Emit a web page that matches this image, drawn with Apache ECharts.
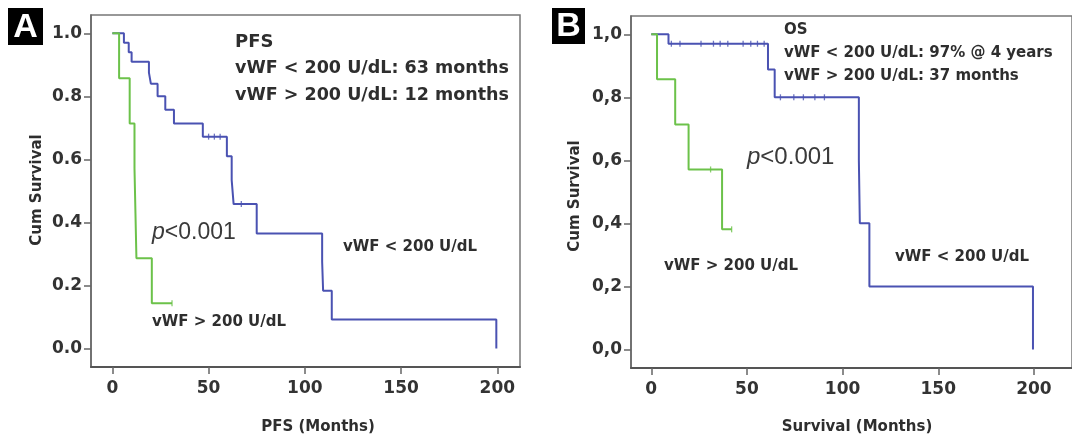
<!DOCTYPE html>
<html><head><meta charset="utf-8">
<script src="https://cdn.jsdelivr.net/npm/echarts@6/dist/echarts.min.js"></script>
<style>html,body{margin:0;padding:0;background:#fff}#c{width:1072px;height:439px}</style>
</head><body><div id="c"></div>
<script>
// ---------- data ----------
const xTickVals = [0, 50, 100, 150, 200];
const yTickVals = [0, 0.2, 0.4, 0.6, 0.8, 1.0];

// Panel A: PFS
const pfsLowTime  = [0, 6, 8.5, 10, 19, 20, 23.5, 27.5, 32, 47, 59.5, 62, 63, 75, 109, 109.5, 114, 199.5];
const pfsLowSurv  = [1, 0.97, 0.94, 0.91, 0.875, 0.84, 0.80, 0.757, 0.714, 0.672, 0.61, 0.534, 0.458, 0.365, 0.275, 0.183, 0.092, 0];
const pfsLowCensT = [50, 53, 56, 67];
const pfsLowCensS = [0.672, 0.672, 0.672, 0.458];
const pfsHighTime = [0, 3.5, 9, 11.5, 12, 12.5, 20.5, 31];
const pfsHighSurv = [1, 0.857, 0.714, 0.571, 0.429, 0.286, 0.143, 0.143];
const pfsHighCensT = [31];
const pfsHighCensS = [0.143];

// Panel B: OS
const osLowTime  = [0, 9, 61, 64.5, 108.5, 109, 114, 199.5];
const osLowSurv  = [1, 0.97, 0.888, 0.80, 0.60, 0.40, 0.20, 0];
const osLowCensT = [10.5, 15, 26, 32.5, 36, 40, 48, 52, 55.5, 59, 67.5, 74.5, 79.5, 85.5, 90.5];
const osLowCensS = [0.97, 0.97, 0.97, 0.97, 0.97, 0.97, 0.97, 0.97, 0.97, 0.97, 0.80, 0.80, 0.80, 0.80, 0.80];
const osHighTime = [0, 3, 12.5, 19.5, 37, 42];
const osHighSurv = [1, 0.857, 0.714, 0.571, 0.381, 0.381];
const osHighCensT = [31, 42];
const osHighCensS = [0.571, 0.381];

// ---------- helpers ----------
const zip = (t, s) => t.map((v, i) => [v, s[i]]);
const BLUE = '#4a52b2', GREEN = '#6cc24a', TXT = '#2e2e2e';
const tickFont = { fontFamily: 'DejaVu Sans', fontWeight: 'bold', fontSize: 17, color: '#333' };

function xAxis(gi, min, max) {
  return {
    type: 'value', gridIndex: gi, min: min, max: max,
    axisLine: { show: true, onZero: false, lineStyle: { color: '#555', width: 2 } },
    axisTick: { show: true, length: 7, lineStyle: { color: '#666', width: 1.5 }, customValues: xTickVals },
    axisLabel: Object.assign({ margin: 13, customValues: xTickVals, formatter: v => String(v) }, tickFont),
    splitLine: { show: false }
  };
}
function yAxis(gi, comma) {
  return {
    type: 'value', gridIndex: gi, min: -0.059, max: 1.058,
    axisLine: { show: true, onZero: false, lineStyle: { color: '#666', width: 1.5 } },
    axisTick: { show: true, length: 7, lineStyle: { color: '#666', width: 1.5 }, customValues: yTickVals },
    axisLabel: Object.assign({ margin: 9, customValues: yTickVals,
      formatter: v => { const s = v.toFixed(1); return comma ? s.replace('.', ',') : s; } }, tickFont),
    splitLine: { show: false }
  };
}
function km(name, t, s, color, xi) {
  return { name, type: 'line', step: 'end', xAxisIndex: xi, yAxisIndex: xi, data: zip(t, s),
    symbol: 'none', lineStyle: { color, width: 2 }, itemStyle: { color }, z: 3, animation: false };
}
function cens(t, s, color, xi) {
  return { type: 'scatter', xAxisIndex: xi, yAxisIndex: xi, data: zip(t, s),
    symbol: 'rect', symbolSize: [1.3, 6], itemStyle: { color }, z: 4, animation: false };
}
function txt(x, y, text, size, opts) {
  return Object.assign({ type: 'text', x, y, style: Object.assign({
    text, fontFamily: 'DejaVu Sans', fontWeight: 'bold', fontSize: size, fill: TXT,
    verticalAlign: 'middle', align: 'left' }, (opts && opts.style) || {}) }, (opts && opts.el) || {});
}
function pval(x, y, size) {
  return { type: 'text', x, y, style: {
    text: '{i|p}{n|<0.001}', verticalAlign: 'middle', align: 'left',
    rich: {
      i: { fontFamily: 'Liberation Sans', fontStyle: 'italic', fontSize: size, fill: '#3a3a3a' },
      n: { fontFamily: 'Liberation Sans', fontSize: size, fill: '#3a3a3a' }
    } } };
}
function badge(x, y, w, h, letter) {
  return [
    { type: 'rect', shape: { x, y, width: w, height: h }, style: { fill: '#000' } },
    { type: 'text', x: x + w / 2, y: y + h / 2 + 1, style: { text: letter, fontFamily: 'Liberation Sans',
      fontWeight: 'bold', fontSize: 34, fill: '#fff', align: 'center', verticalAlign: 'middle' } }
  ];
}

const chart = echarts.init(document.getElementById('c'), null, { renderer: 'canvas' });
chart.setOption({
  animation: false,
  backgroundColor: '#fff',
  grid: [
    { left: 91, top: 15, width: 429, height: 352, show: true, borderColor: '#777', borderWidth: 1.5 },
    { left: 631, top: 16, width: 450, height: 352, show: true, borderColor: '#777', borderWidth: 1.5 }
  ],
  xAxis: [xAxis(0, -11.1, 211.8), xAxis(1, -10.6, 219.9)],
  yAxis: [yAxis(0, false), yAxis(1, true)],
  series: [
    km('vWF < 200 U/dL', pfsLowTime, pfsLowSurv, BLUE, 0),
    km('vWF > 200 U/dL', pfsHighTime, pfsHighSurv, GREEN, 0),
    cens(pfsLowCensT, pfsLowCensS, BLUE, 0),
    cens(pfsHighCensT, pfsHighCensS, GREEN, 0),
    km('vWF < 200 U/dL', osLowTime, osLowSurv, BLUE, 1),
    km('vWF > 200 U/dL', osHighTime, osHighSurv, GREEN, 1),
    cens(osLowCensT, osLowCensS, BLUE, 1),
    cens(osHighCensT, osHighCensS, GREEN, 1)
  ],
  graphic: [].concat(
    badge(8, 8, 35, 37, 'A'),
    badge(552, 8, 33, 36, 'B'),
    [
      txt(235, 42, 'PFS', 18),
      txt(235, 68, 'vWF < 200 U/dL: 63 months', 17.5),
      txt(235, 95, 'vWF > 200 U/dL: 12 months', 17.5),
      pval(152, 233, 23),
      txt(343, 247, 'vWF < 200 U/dL', 15),
      txt(152, 322, 'vWF > 200 U/dL', 15),
      txt(37, 190, 'Cum Survival', 15, { style: { align: 'center' }, el: { rotation: Math.PI / 2 } }),
      txt(318, 427, 'PFS (Months)', 15, { style: { align: 'center' } }),

      txt(784, 30, 'OS', 15),
      txt(784, 53, 'vWF < 200 U/dL: 97% @ 4 years', 15),
      txt(784, 76, 'vWF > 200 U/dL: 37 months', 15),
      pval(747, 157, 24),
      txt(664, 266, 'vWF > 200 U/dL', 15),
      txt(895, 257, 'vWF < 200 U/dL', 15),
      txt(575, 196, 'Cum Survival', 15, { style: { align: 'center' }, el: { rotation: Math.PI / 2 } }),
      txt(857, 427, 'Survival (Months)', 15, { style: { align: 'center' } })
    ]
  )
});
</script>
</body></html>
